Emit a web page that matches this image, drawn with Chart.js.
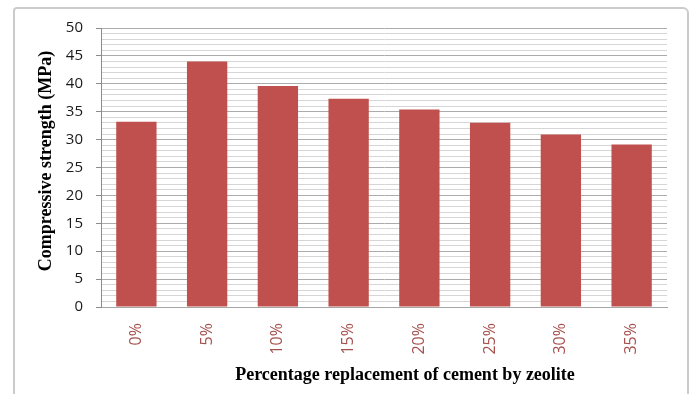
<!DOCTYPE html>
<html>
<head>
<meta charset="utf-8">
<script src="https://cdn.jsdelivr.net/npm/chart.js@4"></script>
<style>
  html, body { margin: 0; padding: 0; background: #fff; }
  #wrap { position: relative; width: 692px; height: 394px; }
  #frame {
    position: absolute; left: 13px; top: 7px; width: 672px; height: 400px;
    border: 2px solid #cbcbcb; border-radius: 4px 6px 0 0; pointer-events: none;
  }
</style>
</head>
<body>
<div id="wrap">
  <canvas id="chart" width="692" height="394"></canvas>
  <div id="frame"></div>
</div>
<script>
// Datos del gráfico
const categories = ['0%', '5%', '10%', '15%', '20%', '25%', '30%', '35%'];
const strength = [33.2, 44.0, 39.6, 37.3, 35.4, 33.0, 30.9, 29.1];
const yTickLabels = [0, 5, 10, 15, 20, 25, 30, 35, 40, 45, 50];

const yTitle = 'Compressive strength (MPa)';
const xTitle = 'Percentage replacement of cement by zeolite';

// títulos de los ejes en posición fija
const axisTitles = {
    id: 'axisTitles',
    afterDraw(chart) {
        const ctx = chart.ctx;
        ctx.save();
        ctx.fillStyle = '#000';
        ctx.font = 'bold 18px "Liberation Serif", "Times New Roman", serif';
        ctx.textAlign = 'center';
        ctx.textBaseline = 'middle';
        ctx.fillText(xTitle, 405, 375);
        ctx.translate(46, 161);
        ctx.rotate(-Math.PI / 2);
        ctx.fillText(yTitle, 0, 0);
        ctx.restore();
    }
};

const ctx = document.getElementById('chart').getContext('2d');
new Chart(ctx, {
    type: 'bar',
    data: {
        labels: categories,
        datasets: [{
            data: strength,
            backgroundColor: '#c0504d',
            borderWidth: 0,
            barPercentage: 0.57,
            categoryPercentage: 1
        }]
    },
    options: {
        responsive: false,
        animation: false,
        layout: { padding: { left: 0, top: 28, right: 25, bottom: 0 } },
        plugins: {
            legend: { display: false },
            tooltip: { enabled: false }
        },
        scales: {
            x: {
                afterFit: s => { s.height = 87; },
                grid: { display: false },
                border: { display: true, color: '#a6a6a6', width: 1 },
                ticks: {
                    color: '#a5524f',
                    font: { family: '"Open Sans", "Noto Sans", sans-serif', size: 16 },
                    minRotation: 90,
                    maxRotation: 90,
                    padding: 8
                }
            },
            y: {
                min: 0,
                max: 50,
                afterFit: s => { s.width = 101; },
                afterBuildTicks: s => {
                    // un tick por unidad para las líneas menores
                    s.ticks = Array.from({ length: 51 }, (_, i) => ({ value: i }));
                },
                border: { display: true, color: '#8c8c8c', width: 1 },
                grid: {
                    color: c => yTickLabels.includes(c.tick.value) ? '#acacac' : '#d6d6d6',
                    tickColor: c => yTickLabels.includes(c.tick.value) ? '#8c8c8c' : 'rgba(0,0,0,0)',
                    tickLength: 5,
                    lineWidth: 1
                },
                ticks: {
                    autoSkip: false,
                    color: '#1a1a1a',
                    font: { family: '"Open Sans", "Noto Sans", sans-serif', size: 15 },
                    padding: 13,
                    callback: v => yTickLabels.includes(v) ? String(v) : ''
                }
            }
        }
    },
    plugins: [axisTitles]
});
</script>
</body>
</html>
